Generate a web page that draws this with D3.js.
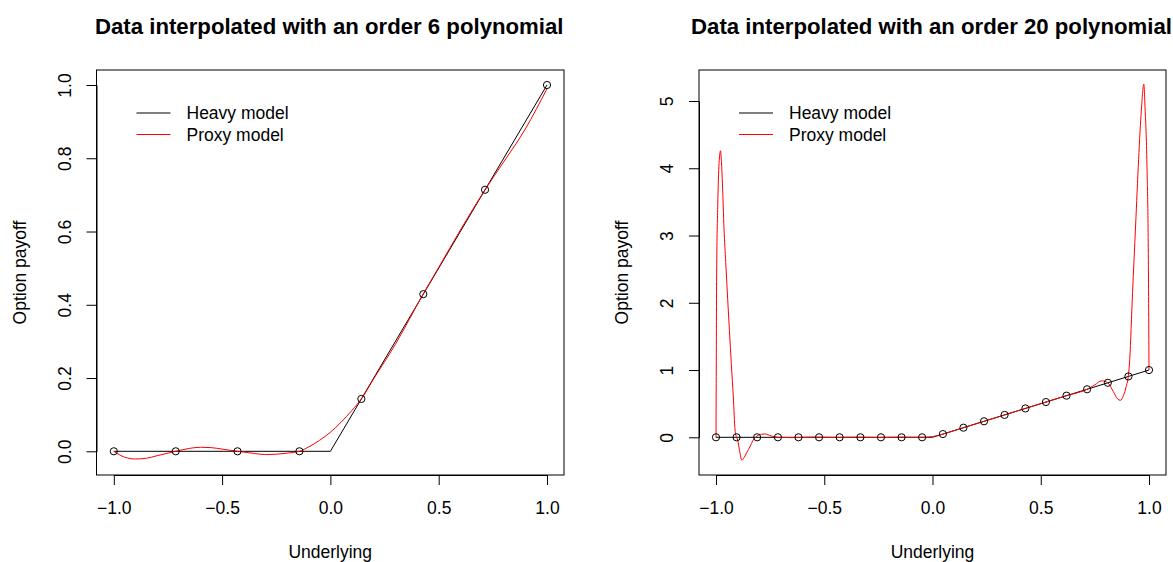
<!DOCTYPE html>
<html>
<head>
<meta charset="utf-8">
<script src="https://cdnjs.cloudflare.com/ajax/libs/d3/7.8.5/d3.min.js"></script>
<style>
  body { margin: 0; background: #fff; }
  svg { font-family: 'Liberation Sans', Arial, sans-serif; }
</style>
</head>
<body>
<div id="graf"></div>
<script>
// I. Datos
xTicks = [-1.0, -0.5, 0.0, 0.5, 1.0]
yTicks6 = [0.0, 0.2, 0.4, 0.6, 0.8, 1.0]
yTicks20 = [0, 1, 2, 3, 4, 5]

titles = ['Data interpolated with an order 6 polynomial',
          'Data interpolated with an order 20 polynomial']
legendLabels = ['Heavy model', 'Proxy model']

// heavy model (payoff), same in both panels
heavyX = [-1, 0, 1]
heavyY = [0, 0, 1]

// order 6: 8 nodes
nodesX6 = [-1, -0.714, -0.429, -0.143, 0.143, 0.429, 0.714, 1]
nodesY6 = [0, 0, 0, 0, 0.143, 0.429, 0.714, 1]
proxyX6 = [-1, -0.95, -0.9, -0.85, -0.8, -0.714, -0.65, -0.6, -0.55, -0.5, -0.429,
           -0.35, -0.3, -0.25, -0.2, -0.143, -0.1, -0.05, 0, 0.05, 0.1, 0.143,
           0.2, 0.3, 0.429, 0.5, 0.6, 0.714, 0.8, 0.9, 1]
proxyY6 = [0, -0.016, -0.021, -0.019, -0.012, 0, 0.008, 0.011, 0.01, 0.006, 0,
           -0.006, -0.009, -0.008, -0.005, 0, 0.012, 0.03, 0.052, 0.08, 0.112, 0.143,
           0.198, 0.292, 0.43, 0.502, 0.604, 0.714, 0.79, 0.88, 0.99]

// order 20: 22 nodes
nodesX20 = [-1, -0.905, -0.810, -0.714, -0.619, -0.524, -0.429, -0.333, -0.238, -0.143, -0.048,
            0.048, 0.143, 0.238, 0.333, 0.429, 0.524, 0.619, 0.714, 0.810, 0.905, 1]
nodesY20 = [0, 0, 0, 0, 0, 0, 0, 0, 0, 0, 0,
            0.048, 0.143, 0.238, 0.333, 0.429, 0.524, 0.619, 0.714, 0.810, 0.905, 1]
proxyX20 = [-1, -0.999, -0.997, -0.992, -0.986, -0.979, -0.975, -0.97, -0.963, -0.955, -0.946,
            -0.938, -0.929, -0.92, -0.912, -0.905, -0.9, -0.891, -0.881, -0.87, -0.857, -0.843,
            -0.83, -0.82, -0.81, -0.79, -0.775, -0.745, -0.714, -0.65, -0.55, -0.45, -0.35,
            -0.25, -0.15, -0.048, 0, 0.048, 0.143, 0.238, 0.333, 0.429, 0.524, 0.619, 0.714,
            0.75, 0.781, 0.81, 0.835, 0.855, 0.868, 0.882, 0.895, 0.905, 0.911, 0.924, 0.938,
            0.952, 0.965, 0.976, 0.982, 0.99, 0.997, 1]
proxyY20 = [0, 0.8, 2.44, 3.43, 4.07, 4.26, 4.1, 3.75, 3.1, 2.6, 2.05,
            1.59, 1.08, 0.6, 0.11, 0, -0.04, -0.2, -0.34, -0.3, -0.22, -0.14,
            -0.05, -0.01, 0.02, 0.045, 0.05, 0.02, 0, -0.005, 0.003, -0.002, 0.002,
            -0.002, 0.002, 0, 0.01, 0.048, 0.143, 0.238, 0.333, 0.429, 0.524, 0.619, 0.714,
            0.78, 0.84, 0.81, 0.68, 0.57, 0.55, 0.62, 0.76, 0.92, 1.16, 2.15, 3.14,
            4.13, 4.88, 5.25, 4.88, 4.13, 2.64, 1]

// II. Configuración
ancho_total = 1173
alto_total = 562
fontSize = 17.5

svg = d3.select('#graf').append('svg')
        .attr('width', ancho_total)
        .attr('height', alto_total)

zip = (xs, ys) => xs.map((d, i) => [d, ys[i]])

// III. Dibujo de un panel
function panel(cfg) {
  const box = cfg.box
  const x = d3.scaleLinear().domain([-1, 1]).range(cfg.xRange)
  const y = d3.scaleLinear().domain(cfg.yDomain).range(cfg.yRange)
  const g = svg.append('g')

  // title
  g.append('text')
    .attr('x', (box.left + box.right) / 2 - 1)
    .attr('y', 34)
    .attr('text-anchor', 'middle')
    .style('font-weight', 'bold')
    .style('font-size', '22.2px')
    .text(cfg.title)

  // axes
  xAxisG = g.append('g')
            .attr('transform', `translate(0, ${box.bottom})`)
            .call(d3.axisBottom(x).tickValues(xTicks).tickSize(10).tickSizeOuter(0)
                    .tickPadding(17).tickFormat(d3.format('.1f')))
  xAxisG.selectAll('text').style('font-size', fontSize + 'px').attr('fill', '#000')

  yAxisG = g.append('g')
            .attr('transform', `translate(${box.left}, 0)`)
            .call(d3.axisLeft(y).tickValues(cfg.yTicks).tickSize(10).tickSizeOuter(0)
                    .tickFormat(d3.format(cfg.yFormat)))
  yAxisG.selectAll('text')
        .attr('x', null).attr('dy', null)
        .attr('text-anchor', 'middle')
        .attr('transform', 'translate(-26, 0) rotate(-90)')
        .style('font-size', fontSize + 'px').attr('fill', '#000')
  g.selectAll('.domain, .tick line').attr('stroke', '#000')

  // box
  g.append('rect')
    .attr('x', box.left).attr('y', box.top)
    .attr('width', box.right - box.left).attr('height', box.bottom - box.top)
    .attr('fill', 'none').attr('stroke', '#000').attr('stroke-width', 1)

  // axis labels
  g.append('text')
    .attr('x', (box.left + box.right) / 2)
    .attr('y', 557.5)
    .attr('text-anchor', 'middle')
    .style('font-size', fontSize + 'px')
    .text('Underlying')
  g.append('text')
    .attr('transform', `translate(${box.left - 71}, ${(box.top + box.bottom) / 2}) rotate(-90)`)
    .attr('text-anchor', 'middle')
    .style('font-size', fontSize + 'px')
    .text('Option payoff')

  line = d3.line().x(d => x(d[0])).y(d => y(d[1]))

  // heavy model
  g.append('path')
    .datum(zip(heavyX, heavyY))
    .attr('d', line)
    .attr('fill', 'none').attr('stroke', '#000').attr('stroke-width', 1)

  // proxy model
  g.append('path')
    .datum(zip(cfg.proxyX, cfg.proxyY))
    .attr('d', line.curve(d3.curveMonotoneX))
    .attr('fill', 'none').attr('stroke', '#ff0000').attr('stroke-width', 1)

  // nodes
  g.selectAll('circle')
    .data(zip(cfg.nodesX, cfg.nodesY))
    .enter()
    .append('circle')
      .attr('cx', d => x(d[0]))
      .attr('cy', d => y(d[1]))
      .attr('r', 3.6)
      .attr('fill', 'none').attr('stroke', '#000').attr('stroke-width', 1)

  // legend (no box)
  legendColors = ['#000', '#ff0000']
  legendLabels.forEach((lab, i) => {
    const ly = 113 + i * 21.5
    g.append('line')
      .attr('x1', box.left + 40).attr('x2', box.left + 74)
      .attr('y1', ly).attr('y2', ly)
      .attr('stroke', legendColors[i]).attr('stroke-width', 1)
    g.append('text')
      .attr('x', box.left + 90).attr('y', ly + 6)
      .style('font-size', fontSize + 'px')
      .text(lab)
  })
}

// IV. Despliegue
panel({
  title: titles[0],
  box: { left: 96.5, right: 564, top: 70, bottom: 475 },
  xRange: [113.8, 547],
  yDomain: [0, 1], yRange: [451.3, 85],
  yTicks: yTicks6, yFormat: '.1f',
  nodesX: nodesX6, nodesY: nodesY6,
  proxyX: proxyX6, proxyY: proxyY6
})

panel({
  title: titles[1],
  box: { left: 699, right: 1166, top: 70, bottom: 475 },
  xRange: [716, 1149],
  yDomain: [0, 5], yRange: [437.3, 101],
  yTicks: yTicks20, yFormat: 'd',
  nodesX: nodesX20, nodesY: nodesY20,
  proxyX: proxyX20, proxyY: proxyY20
})
</script>
</body>
</html>
